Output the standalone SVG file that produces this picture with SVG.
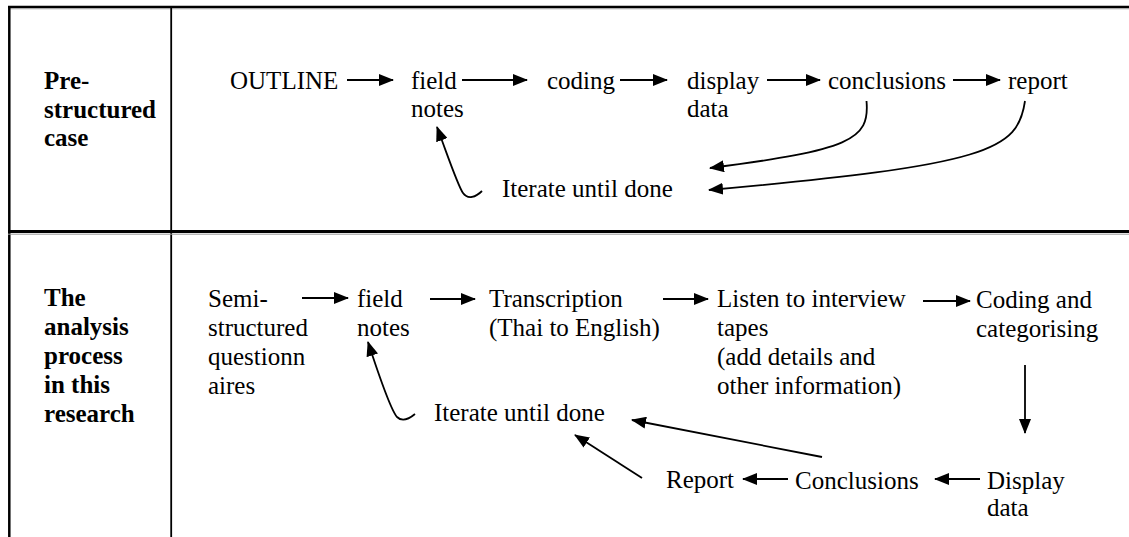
<svg xmlns="http://www.w3.org/2000/svg" width="1129" height="537" viewBox="0 0 1129 537" font-family="Liberation Serif" font-size="25">
<style>
.b{font-weight:bold}
.c{fill:none;stroke:#000;stroke-width:1.8}
.a{marker-end:url(#ah)}
</style>
<defs>
<marker id="ah" viewBox="0 0 15 12" refX="14" refY="6" markerWidth="15" markerHeight="12" markerUnits="userSpaceOnUse" orient="auto"><path d="M0,0 L15,6 L0,12 z" fill="#000"/></marker>
</defs>
<rect width="1129" height="537" fill="#fff"/>
<g id="table">
<line x1="8" y1="7" x2="1129" y2="7" stroke="#000" stroke-width="2.5"/>
<line x1="8" y1="8.8" x2="1129" y2="8.8" stroke="#999" stroke-width="0.8"/>
<line x1="9.3" y1="6" x2="9.3" y2="537" stroke="#000" stroke-width="2.5"/>
<line x1="171.2" y1="6" x2="171.2" y2="537" stroke="#000" stroke-width="1.8"/>
<line x1="8" y1="231.5" x2="1129" y2="231.5" stroke="#000" stroke-width="3"/>
<line x1="8" y1="234.2" x2="1129" y2="234.2" stroke="#999" stroke-width="1"/>
</g>
<g id="label1"><text class="b" x="44" y="89">Pre-<tspan x="44" dy="28.5">structured</tspan><tspan x="44" dy="28.5">case</tspan></text></g>
<g id="label2"><text class="b" x="44" y="306">The<tspan x="44" dy="29">analysis</tspan><tspan x="44" dy="29">process</tspan><tspan x="44" dy="29">in this</tspan><tspan x="44" dy="29">research</tspan></text></g>
<g id="r1-outline"><text x="230" y="89">OUTLINE</text></g>
<g id="r1-field"><text x="411" y="89">field<tspan x="411" dy="28">notes</tspan></text></g>
<g id="r1-coding"><text x="547" y="89">coding</text></g>
<g id="r1-display"><text x="687" y="89">display<tspan x="687" dy="28">data</tspan></text></g>
<g id="r1-conclusions"><text x="828" y="89">conclusions</text></g>
<g id="r1-report"><text x="1008" y="89">report</text></g>
<g id="r1-iterate"><text x="502" y="197">Iterate until done</text></g>
<g id="r2-semi"><text x="208" y="307">Semi-<tspan x="208" dy="29">structured</tspan><tspan x="208" dy="29">questionn</tspan><tspan x="208" dy="29">aires</tspan></text></g>
<g id="r2-field"><text x="357" y="307">field<tspan x="357" dy="29">notes</tspan></text></g>
<g id="r2-transcription"><text x="489" y="307">Transcription<tspan x="489" dy="29">(Thai to English)</tspan></text></g>
<g id="r2-listen"><text x="717" y="307">Listen to interview<tspan x="717" dy="29">tapes</tspan><tspan x="717" dy="29">(add details and</tspan><tspan x="717" dy="29">other information)</tspan></text></g>
<g id="r2-coding"><text x="976" y="308">Coding and<tspan x="976" dy="29">categorising</tspan></text></g>
<g id="r2-display"><text x="987" y="489">Display<tspan x="987" dy="27">data</tspan></text></g>
<g id="r2-conclusions"><text x="795" y="489">Conclusions</text></g>
<g id="r2-report"><text x="666" y="488">Report</text></g>
<g id="r2-iterate"><text x="434" y="421">Iterate until done</text></g>
<g id="connectors">
<line class="c a" x1="347" y1="80" x2="393" y2="80"/>
<line class="c a" x1="462" y1="80" x2="527" y2="80"/>
<line class="c a" x1="620" y1="80" x2="667" y2="80"/>
<line class="c a" x1="767" y1="80" x2="820" y2="80"/>
<line class="c a" x1="953" y1="80" x2="1000" y2="80"/>
<path class="c a" d="M866.5,101 C870,140 850,150 710,168"/>
<path class="c a" d="M1025,101 C1018,150 990,165 709,190"/>
<path class="c a" d="M482,191 C476,197 468,200 463,193 C458,186 450,162 437,127"/>
<line class="c a" x1="302" y1="298" x2="348" y2="298"/>
<line class="c a" x1="430" y1="299" x2="475" y2="299"/>
<line class="c a" x1="663" y1="299" x2="708" y2="299"/>
<line class="c a" x1="923" y1="301" x2="970" y2="301"/>
<line class="c a" x1="1025" y1="365" x2="1025" y2="433"/>
<line class="c a" x1="980" y1="479" x2="935" y2="479"/>
<line class="c a" x1="788" y1="479" x2="743" y2="479"/>
<line class="c a" x1="822" y1="457" x2="632" y2="420"/>
<line class="c a" x1="642" y1="478" x2="575" y2="435"/>
<path class="c a" d="M415,414 C409,419 402,422 397,417 C391,410 382,385 368,342"/>
</g>
</svg>
